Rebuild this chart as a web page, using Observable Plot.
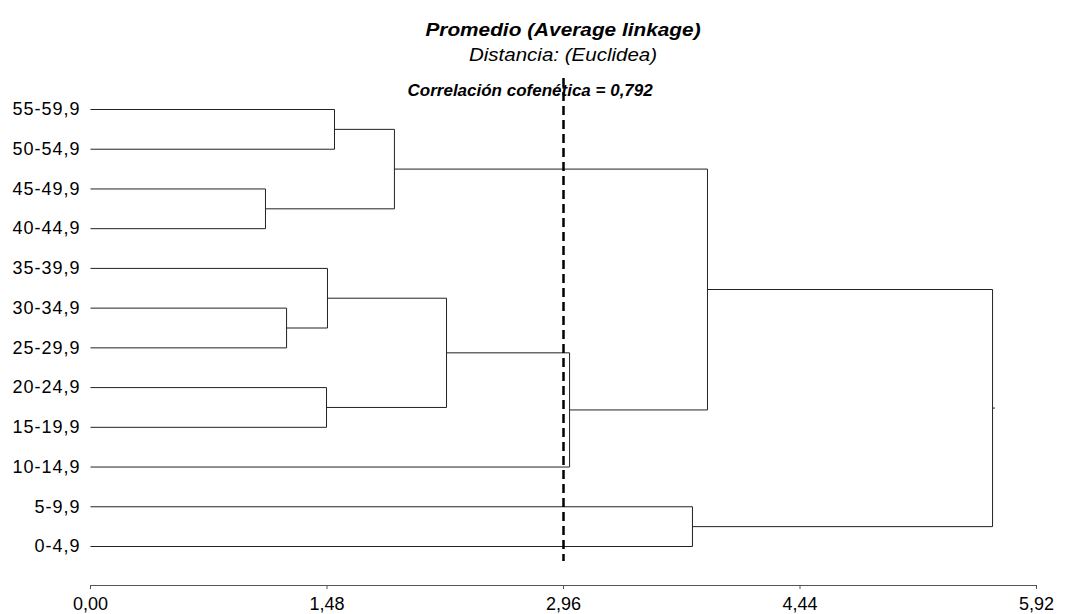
<!DOCTYPE html>
<html>
<head>
<meta charset="utf-8">
<script src="https://cdn.jsdelivr.net/npm/d3@7"></script>
<script src="https://cdn.jsdelivr.net/npm/@observablehq/plot@0.6"></script>
<style>
  body { margin: 0; background: #fff; font-family: "Liberation Sans", Arial, sans-serif; }
  #wrap { position: relative; width: 1068px; height: 614px; }
  .t { position: absolute; left: 263px; width: 600px; text-align: center; color: #000; transform-origin: 300px 50%; }
  #title { top: 19px; font-size: 19px; font-weight: bold; font-style: italic; transform: scaleX(1.095); }
  #sub { top: 45px; font-size: 18px; font-style: italic; transform: scaleX(1.14); }
  #chart { position: absolute; left: 0; top: 70px; }
  #chart svg g[aria-label="y-axis tick label"] text { letter-spacing: 1px; }
</style>
</head>
<body>
<div id="wrap">
  <div class="t" id="title">Promedio (Average linkage)</div>
  <div class="t" id="sub">Distancia: (Euclidea)</div>
  <div id="chart"></div>
</div>
<script>
const leaves = ["55-59,9","50-54,9","45-49,9","40-44,9","35-39,9","30-34,9","25-29,9","20-24,9","15-19,9","10-14,9","5-9,9","0-4,9"];
// merges, in order: cluster c(i+1) joins mergeLeft[i] and mergeRight[i] at mergeHeight[i]
const mergeLeft   = ["55-59,9","45-49,9","c1","30-34,9","35-39,9","20-24,9","c5","c7","c3","5-9,9","c9"];
const mergeRight  = ["50-54,9","40-44,9","c2","25-29,9","c4","15-19,9","c6","10-14,9","c8","0-4,9","c10"];
const mergeHeight = [1.527, 1.095, 1.902, 1.227, 1.483, 1.477, 2.228, 2.998, 3.861, 3.767, 5.645];
const xTicks = [0, 1.48, 2.96, 4.44, 5.92];
const cutoff = 2.96;
const corrLabel = "Correlación cofenética = 0,792";

// compute node positions
const pos = new Map();
leaves.forEach((l, i) => pos.set(l, {x: 0, y: i}));
const links = [];
mergeHeight.forEach((h, i) => {
  const a = pos.get(mergeLeft[i]), b = pos.get(mergeRight[i]);
  links.push({x1: a.x, x2: h, y1: a.y, y2: a.y});
  links.push({x1: b.x, x2: h, y1: b.y, y2: b.y});
  links.push({x1: h, x2: h, y1: a.y, y2: b.y});
  pos.set("c" + (i + 1), {x: h, y: (a.y + b.y) / 2});
});
const root = pos.get("c" + mergeHeight.length);
links.push({x1: root.x, x2: root.x + 0.015, y1: root.y, y2: root.y});

const fmt = d => d.toFixed(2).replace(".", ",");

const chart = Plot.plot({
  width: 1068,
  height: 544,
  marginLeft: 90,
  marginRight: 32,
  marginTop: 8,
  marginBottom: 29,
  style: {fontFamily: "'Liberation Sans', Arial, sans-serif", fontSize: "18px", color: "#000", background: "#fff"},
  x: {domain: [0, 5.92], range: [90, 1036]},
  y: {domain: [0, leaves.length - 1], range: [39, 476]},
  marks: [
    Plot.link(links, {x1: "x1", y1: "y1", x2: "x2", y2: "y2", stroke: "#222", strokeWidth: 1}),
    Plot.ruleX([cutoff], {stroke: "#000", strokeWidth: 2.5, strokeDasharray: "9,5", insetBottom: 24}),
    Plot.text([corrLabel], {x: 1.984, frameAnchor: "top", dy: 12, text: d => d, textAnchor: "start", lineAnchor: "middle", fontWeight: "bold", fontStyle: "italic", fontSize: 17, fill: "#000"}),
    Plot.axisY({ticks: d3.range(leaves.length), tickFormat: i => leaves[i], tickSize: 0, tickPadding: 10, label: null, fontSize: 18}),
    Plot.axisX({ticks: xTicks, tickFormat: fmt, tickSize: 4, tickPadding: 8, label: null, fontSize: 18, stroke: "#555"}),
    Plot.frame({anchor: "bottom", stroke: "#555"})
  ]
});
document.getElementById("chart").appendChild(chart);
</script>
</body>
</html>
